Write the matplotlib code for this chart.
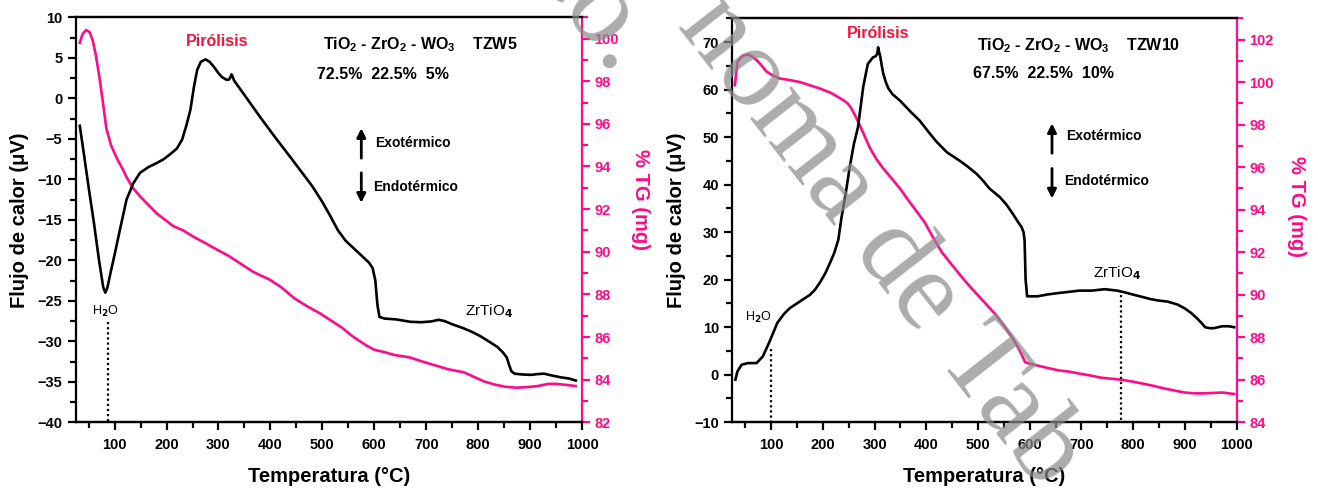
import numpy as np
import matplotlib.pyplot as plt
from matplotlib.ticker import MultipleLocator

plt.rcParams['font.family'] = ['Liberation Sans', 'DejaVu Sans']
plt.rcParams['font.weight'] = 'bold'
plt.rcParams['mathtext.fontset'] = 'custom'
plt.rcParams['mathtext.rm'] = 'Liberation Sans:bold'
plt.rcParams['mathtext.it'] = 'Liberation Sans:bold'
plt.rcParams['mathtext.bf'] = 'Liberation Sans:bold'

PINK = '#ff0a87'
RED = '#f5143c'

# ---- TZW5 (left panel) ----
t_dta5 = [33, 40, 50, 60, 70, 78, 82, 86, 92, 100, 110, 123, 136, 149, 165, 181, 195, 207,
          220, 230, 238, 246, 253, 259, 266, 275, 283, 291, 300, 307, 315, 320, 323, 325,
          327, 330, 350, 380, 410, 440, 460, 480, 500, 515, 530, 545, 560, 575, 590, 597,
          602, 606, 610, 620, 642, 670, 691, 710, 724, 735, 750, 772, 790, 805, 820, 837,
          848, 855, 860, 864, 870, 885, 902, 915, 927, 940, 959, 975, 988]
dta5 = [-3.4, -6.5, -11.0, -15.3, -20.0, -23.3, -24.0, -23.4, -21.6, -19.3, -16.3, -12.5,
        -10.5, -9.2, -8.5, -8.0, -7.5, -6.9, -6.2, -5.1, -3.4, -1.4, 1.5, 3.5, 4.5, 4.8,
        4.5, 3.9, 3.1, 2.6, 2.3, 2.3, 2.6, 2.95, 2.7, 2.2, 0.4, -2.3, -4.9, -7.4, -9.1,
        -10.8, -12.8, -14.5, -16.3, -17.6, -18.5, -19.4, -20.3, -21.0, -22.5, -25.5, -27.0,
        -27.2, -27.3, -27.6, -27.65, -27.55, -27.35, -27.5, -27.9, -28.4, -28.9, -29.4,
        -30.0, -30.7, -31.4, -32.0, -33.0, -33.7, -34.0, -34.1, -34.15, -34.05, -34.0,
        -34.2, -34.45, -34.6, -34.85]

t_tg5 = [33, 38, 45, 52, 58, 64, 70, 77, 84, 93, 104, 115, 123, 135, 149, 165, 181, 197,
         213, 232, 252, 275, 297, 320, 345, 366, 380, 398, 420, 447, 470, 496, 515, 537,
         560, 585, 600, 618, 640, 667, 699, 720, 740, 760, 772, 790, 813, 835, 854, 874,
         894, 915, 935, 951, 970, 988]
tg5 = [99.8, 100.2, 100.4, 100.3, 99.9, 99.2, 98.3, 97.1, 95.8, 95.0, 94.4, 93.9, 93.5,
       93.0, 92.6, 92.2, 91.8, 91.5, 91.2, 91.0, 90.7, 90.4, 90.1, 89.8, 89.4, 89.07, 88.9,
       88.7, 88.35, 87.8, 87.45, 87.1, 86.8, 86.45, 86.0, 85.6, 85.4, 85.3, 85.15, 85.05,
       84.8, 84.65, 84.5, 84.4, 84.35, 84.15, 83.9, 83.75, 83.66, 83.62, 83.65, 83.7,
       83.8, 83.8, 83.75, 83.7]

# ---- TZW10 (right panel) ----
t_dta10 = [31, 35, 43, 55, 72, 84, 96, 112, 125, 136, 150, 161, 175, 185, 195, 205, 215,
           222, 230, 236, 244, 252, 260, 268, 278, 287, 297, 302, 305, 307, 309, 311, 314,
           317, 322, 327, 335, 349, 370, 387, 405, 420, 440, 465, 480, 497, 510, 522, 542,
           555, 567, 577, 584, 588, 590, 592, 595, 605, 615, 635, 656, 680, 696, 720, 745,
           769, 785, 802, 820, 834, 850, 866, 885, 899, 912, 923, 932, 939, 947, 956, 972,
           985, 995]
dta10 = [-1.05, 0.7, 2.1, 2.45, 2.45, 3.85, 6.7, 10.9, 12.8, 14.0, 15.0, 15.8, 16.8, 17.9,
         19.5, 21.4, 23.8, 25.6, 28.4, 33.0, 38.0, 43.7, 48.5, 52.1, 60.5, 65.4, 66.8, 67.0,
         67.5, 68.9, 67.8, 67.0, 65.0, 63.3, 61.5, 60.2, 59.0, 57.7, 55.3, 53.5, 51.0, 49.0,
         46.8, 45.0, 43.8, 42.3, 40.8, 39.2, 37.4, 35.8, 33.9, 32.2, 31.1, 30.0, 28.3, 20.0,
         16.5, 16.5, 16.5, 16.9, 17.2, 17.5, 17.7, 17.7, 18.0, 17.7, 17.3, 16.8, 16.3, 15.9,
         15.6, 15.4, 14.8, 14.0, 13.0, 11.9, 10.9, 10.0, 9.8, 9.8, 10.2, 10.2, 10.0]

t_tg10 = [30, 35, 45, 56, 64, 72, 81, 91, 104, 117, 135, 156, 175, 194, 215, 239, 248, 255,
          263, 271, 281, 291, 303, 316, 332, 349, 365, 381, 397, 413, 430, 453, 473, 493,
          514, 534, 550, 566, 580, 591, 600, 615, 635, 656, 676, 696, 717, 737, 757, 777,
          797, 818, 838, 858, 878, 899, 919, 939, 956, 972, 985, 995]
tg10 = [99.86, 100.95, 101.25, 101.3, 101.2, 101.03, 100.8, 100.5, 100.3, 100.17, 100.1,
        100.0, 99.85, 99.7, 99.5, 99.16, 99.0, 98.77, 98.4, 98.0, 97.45, 96.9, 96.4, 95.96,
        95.5, 95.0, 94.45, 93.93, 93.4, 92.7, 92.0, 91.3, 90.7, 90.15, 89.6, 89.07, 88.55,
        88.0, 87.4, 86.83, 86.75, 86.67, 86.55, 86.44, 86.38, 86.29, 86.2, 86.1, 86.05,
        86.0, 85.92, 85.82, 85.72, 85.6, 85.5, 85.4, 85.36, 85.36, 85.38, 85.4, 85.36, 85.33]

panels = [
    dict(t_dta=t_dta5, dta=dta5, t_tg=t_tg5, tg=tg5, ylim=(-40, 10), ymaj=5, ymin=2.5,
         tglim=(82, 101), name='TZW5', pct='72.5%  22.5%  5%',
         pos=[0.0574, 0.140, 0.3842, 0.8248], tg_label=(1.115, 0.55),
         piro=(297, 6.95), comp=(501, 6.6), pcts=(490, 2.9),
         arrow_t=575, up=(-7.4, -3.7), down=(-9.2, -12.9), exo=(602, -5.5), endo=(598, -10.95),
         h2o=(83, -26.3), h2o_line=(88, -27.6), zr=(821, -26.3), zr_line=None),
    dict(t_dta=t_dta10, dta=dta10, t_tg=t_tg10, tg=tg10, ylim=(-10, 75), ymaj=10, ymin=5,
         tglim=(84, 103), name='TZW10', pct='67.5%  22.5%  10%',
         pos=[0.5556, 0.140, 0.3827, 0.8227], tg_label=(1.119, 0.535),
         piro=(307, 71.7), comp=(499, 69.3), pcts=(490, 63.4),
         arrow_t=643, up=(46.6, 52.9), down=(43.4, 37.1), exo=(671, 50.2), endo=(667, 40.7),
         h2o=(76, 12.1), h2o_line=(100, 5.5), zr=(769, 21.4), zr_line=(777, 16.8)),
]

fig = plt.figure(figsize=(13.18, 4.91), dpi=100)

for p in panels:
    ax = fig.add_axes(p['pos'])
    ax2 = ax.twinx()
    ax.plot(p['t_dta'], p['dta'], color='black', lw=1.9, zorder=3)
    ax2.plot(p['t_tg'], p['tg'], color=PINK, lw=1.9)

    ax.set_xlim(25, 1000)
    ax.set_ylim(*p['ylim'])
    ax2.set_ylim(*p['tglim'])
    ax.xaxis.set_major_locator(MultipleLocator(100))
    ax.xaxis.set_minor_locator(MultipleLocator(50))
    ax.yaxis.set_major_locator(MultipleLocator(p['ymaj']))
    ax.yaxis.set_minor_locator(MultipleLocator(p['ymin']))
    ax2.yaxis.set_major_locator(MultipleLocator(2))
    ax2.yaxis.set_minor_locator(MultipleLocator(1))

    for s in ax.spines.values():
        s.set_linewidth(1.6)
    for s in ax2.spines.values():
        s.set_linewidth(1.6)
    ax2.spines['right'].set_color(PINK)
    ax2.spines['left'].set_visible(False)
    ax.spines['right'].set_visible(False)

    ax.tick_params(which='major', direction='out', length=6, width=1.6, labelsize=10.5, top=False, right=False)
    ax.tick_params(which='minor', direction='out', length=4, width=1.6, top=False, right=False)
    ax2.tick_params(which='major', direction='out', length=6, width=1.6, labelsize=10.5,
                    colors=PINK, pad=3)
    ax2.tick_params(which='minor', direction='out', length=4, width=1.6, colors=PINK)
    ax.tick_params(axis='x', pad=5)

    ax.set_xlabel('Temperatura (°C)', fontsize=14.5, fontweight='bold', labelpad=11)
    ax.set_ylabel('Flujo de calor (μV)', fontsize=14.5, fontweight='bold', labelpad=6)
    ax2.set_ylabel('% TG (mg)', fontsize=14.5, fontweight='bold', color=PINK, rotation=270,
                   va='center')
    ax2.yaxis.set_label_coords(*p['tg_label'])

    ax.text(*p['piro'], 'Pirólisis', color=RED, fontsize=11.5, fontweight='bold',
            ha='center', va='center')
    ax.text(*p['comp'], r'TiO$_2$ - ZrO$_2$ - WO$_3$    ' + p['name'], fontsize=11.5,
            fontweight='bold', ha='left', va='center')
    ax.text(*p['pcts'], p['pct'], fontsize=11.5, fontweight='bold', ha='left', va='center')

    ax.annotate('', xy=(p['arrow_t'], p['up'][1]), xytext=(p['arrow_t'], p['up'][0]),
                arrowprops=dict(arrowstyle='-|>', color='black', lw=2, mutation_scale=13,
                                shrinkA=0, shrinkB=0))
    ax.annotate('', xy=(p['arrow_t'], p['down'][1]), xytext=(p['arrow_t'], p['down'][0]),
                arrowprops=dict(arrowstyle='-|>', color='black', lw=2, mutation_scale=13,
                                shrinkA=0, shrinkB=0))
    ax.text(*p['exo'], 'Exotérmico', fontsize=10, fontweight='bold', ha='left', va='center')
    ax.text(*p['endo'], 'Endotérmico', fontsize=10, fontweight='bold', ha='left', va='center')

    ax.text(*p['h2o'], r'H$_2$O', fontsize=9, fontweight='normal', ha='center', va='center',
            math_fontfamily='dejavusans')
    ax.plot([p['h2o_line'][0]] * 2, [p['h2o_line'][1], p['ylim'][0]], color='black',
            lw=1.6, ls=(0, (1, 1.3)))
    ax.text(*p['zr'], r'ZrTiO$_4$', fontsize=11, fontweight='normal', ha='center', va='center',
            math_fontfamily='dejavusans')
    if p['zr_line'] is not None:
        ax.plot([p['zr_line'][0]] * 2, [p['zr_line'][1], p['ylim'][0]], color='black',
                lw=1.6, ls=(0, (1, 1.3)))

    ax.set_zorder(ax2.get_zorder() + 1)
    ax.patch.set_visible(False)

# watermark of the scanned thesis page (two diagonal lines, partly visible)
wm = dict(family='Liberation Serif', fontweight='normal', color='#8c8c8c', alpha=0.72,
          rotation=-52, rotation_mode='anchor', zorder=10)
fig.text(0.668, 0.508, 'noma de Tab', fontsize=83, ha='center', va='center', **wm)
fig.text(614 / 1318, 1 - 78 / 491, 'Tabasco.', fontsize=83, ha='right', va='baseline', **wm)

fig.savefig('out.png', dpi=100)
